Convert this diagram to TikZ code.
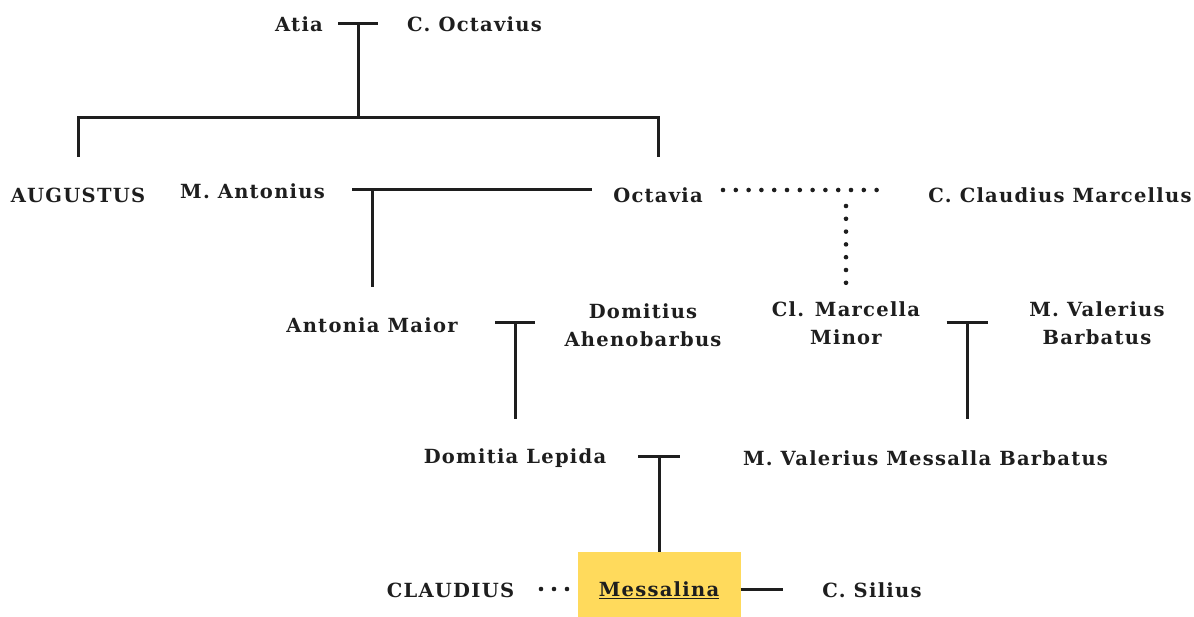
\documentclass[tikz,border=0pt]{standalone}
\usepackage{fontspec}
\newfontfamily\namefont{DejaVu Serif Bold}[LetterSpace=6.5]
\definecolor{highlight}{HTML}{FFDA5C}
\definecolor{ink}{HTML}{1E1E1E}
\tikzset{
  person/.style={font=\namefont\fontsize{19.5}{28}\selectfont, inner sep=0pt, align=center, text=ink},
  link/.style={line width=3pt, draw=ink},
  dotlink/.style={line width=4.6pt, draw=ink, line cap=round, dash pattern=on 0pt off 12.8pt},
}
\begin{document}
\begin{tikzpicture}[x=1pt,y=-1pt]
\useasboundingbox (0,0) rectangle (1194,617);

% highlighted box behind Messalina
\node[fill=highlight, minimum width=163pt, minimum height=65pt, inner sep=0pt] (box) at (659,584.5) {};

% people
\node[person] (atia) at (299,24) {Atia};
\node[person] (octavius) at (474.5,24) {C. Octavius};
\node[person] (augustus) at (78,195) {AUGUSTUS};
\node[person] (antonius) at (252.5,191) {M. Antonius};
\node[person] (octavia) at (658,195) {Octavia};
\node[person] (marcellus) at (1060,195) {C. Claudius Marcellus};
\node[person] (antmaior) at (372,325) {Antonia Maior};
\node[person] (domitius) at (643,325) {Domitius\\Ahenobarbus};
\node[person] (marcella) at (846,323) {Cl. Marcella\\Minor};
\node[person] (valerius) at (1097,323) {M. Valerius\\Barbatus};
\node[person] (lepida) at (515,458) {Domitia Lepida};
\node[person] (messalla) at (925.5,458) {M. Valerius Messalla Barbatus};
\node[person] (messalina) at (659,590) {\underline{Messalina}};
\node[person] (claudius) at (450.5,590) {CLAUDIUS};
\node[person] (silius) at (872,590) {C. Silius};

% junction points
\coordinate (m1) at (358,24);
\coordinate (s1) at (358,118);
\coordinate (m2) at (372,190);
\coordinate (m3) at (846,190);
\coordinate (m4) at (515,323);
\coordinate (m5) at (967,323);
\coordinate (m6) at (659,456);

% Atia & C. Octavius
\draw[link] ([xshift=-20pt]m1) -- ([xshift=20pt]m1);
\draw[link] (m1) -- (s1);
\draw[link] (augustus.north |- 0,157) -- (augustus.north |- s1) -- (octavia.north |- s1) -- (octavia.north |- 0,157);

% M. Antonius & Octavia
\draw[link] (352,190) -- (592,190);
\draw[link] (m2) -- (antmaior.north |- 0,287);

% Octavia & C. Claudius Marcellus
\draw[dotlink] (723,190) -- (877,190);
\draw[dotlink] (846,206) -- (marcella.north |- 0,283);

% Antonia Maior & Domitius Ahenobarbus
\draw[link] ([xshift=-20pt]m4) -- ([xshift=20pt]m4);
\draw[link] (m4) -- (lepida.north |- 0,419);

% Cl. Marcella Minor & M. Valerius Barbatus
\draw[link] ([xshift=-20.5pt]m5) -- ([xshift=20.5pt]m5);
\draw[link] (m5) -- (967,419);

% Domitia Lepida & M. Valerius Messalla Barbatus
\draw[link] ([xshift=-21pt]m6) -- ([xshift=21pt]m6);
\draw[link] (m6) -- (box.north);

% Claudius and C. Silius
\draw[dotlink, dash pattern=on 0pt off 13pt] (541,589) -- (568,589);
\draw[link] (box.east |- 0,589) -- (783,589);
\end{tikzpicture}
\end{document}
